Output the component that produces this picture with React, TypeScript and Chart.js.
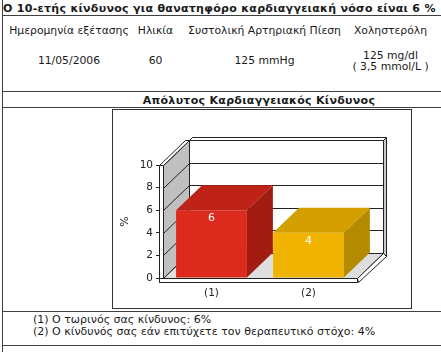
import React, { useEffect, useRef } from "react";
import { Chart, registerables } from "chart.js";

Chart.register(...registerables);

// ---------- data ----------
const categories = ["(1)", "(2)"];
const riskValues = [6, 4];
const valueLabels = ["6", "4"];
const yTickValues = [0, 2, 4, 6, 8, 10];
const frontColors = ["#dc2a1c", "#f0b400"];
const topColors = ["#bf2317", "#d4a000"];
const sideColors = ["#a31c12", "#b48b00"];

const pageTitle = "Ο 10-ετής κίνδυνος για θανατηφόρο καρδιαγγειακή νόσο είναι 6 %";
const headerLabels = ["Ημερομηνία εξέτασης", "Ηλικία", "Συστολική Αρτηριακή Πίεση", "Χοληστερόλη"];
const headerValues = ["11/05/2006", "60", "125 mmHg"];
const cholesterolLines = ["125 mg/dl", "( 3,5 mmol/L )"];
const chartTitle = "Απόλυτος Καρδιαγγειακός Κίνδυνος";
const yAxisTitle = "%";
const legendLines = [
  "(1) Ο τωρινός σας κίνδυνος: 6%",
  "(2) Ο κίνδυνός σας εάν επιτύχετε τον θεραπευτικό στόχο: 4%",
];

const FONT = '"DejaVu Sans", Verdana, sans-serif';
const LINE = "#222";
const DX = 26;
const DY = -25;

function poly(ctx: CanvasRenderingContext2D, pts: number[][], fill: string | null, stroke: string | null) {
  ctx.beginPath();
  ctx.moveTo(pts[0][0], pts[0][1]);
  for (let i = 1; i < pts.length; i++) ctx.lineTo(pts[i][0], pts[i][1]);
  ctx.closePath();
  if (fill) {
    ctx.fillStyle = fill;
    ctx.fill();
  }
  if (stroke) {
    ctx.strokeStyle = stroke;
    ctx.stroke();
  }
}

function seg(ctx: CanvasRenderingContext2D, x1: number, y1: number, x2: number, y2: number) {
  ctx.beginPath();
  ctx.moveTo(x1, y1);
  ctx.lineTo(x2, y2);
  ctx.stroke();
}

const threeDPlugin = {
  id: "threeD",
  beforeDatasetsDraw(chart: any) {
    const { ctx, chartArea: a, scales } = chart;
    const ys = scales.y;
    const p = (v: number) => Math.round(v) + 0.5;
    const L = p(a.left);
    const R = p(a.right);
    const T = p(ys.getPixelForValue(10));
    const B = p(ys.getPixelForValue(0));
    ctx.save();
    ctx.lineWidth = 1;
    ctx.strokeStyle = LINE;
    // back wall
    poly(ctx, [[L + DX, T + DY], [R + DX, T + DY], [R + DX, B + DY], [L + DX, B + DY]], "#ffffff", LINE);
    for (const v of yTickValues) {
      const yy = p(ys.getPixelForValue(v)) + DY;
      seg(ctx, L + DX, yy, R + DX, yy);
    }
    // back wall thickness strip
    poly(ctx, [[R + DX, T + DY - 3], [R + DX + 3, T + DY - 3], [R + DX + 3, B + DY + 3], [R + DX, B + DY]], "#c8c8c8", LINE);
    poly(ctx, [[L + DX, T + DY], [L + DX + 3, T + DY - 3], [R + DX + 3, T + DY - 3], [R + DX, T + DY]], "#ffffff", LINE);
    // side wall
    poly(ctx, [[L, T], [L + DX, T + DY], [L + DX, B + DY], [L, B]], "#c0c0c0", LINE);
    for (const v of yTickValues) {
      const yy = p(ys.getPixelForValue(v));
      seg(ctx, L, yy, L + DX, yy + DY);
    }
    // floor
    poly(ctx, [[L, B], [R, B], [R + DX, B + DY], [L + DX, B + DY]], "#dedede", LINE);
    // floor thickness right face
    poly(ctx, [[R, B], [R + DX, B + DY], [R + DX + 3, B + DY + 3], [R + 1, B + 4]], "#ffffff", LINE);
    // left axis box
    poly(ctx, [[L - 4, T], [L, T], [L + DX, T + DY], [L - 4 + DX, T + DY]], "#ffffff", LINE);
    poly(ctx, [[L - 4, T], [L, T], [L, B + 4], [L - 4, B + 4]], "#ffffff", LINE);
    // bottom axis box
    poly(ctx, [[L - 4, B], [R, B], [R, B + 4], [L - 4, B + 4]], "#ffffff", LINE);
    ctx.restore();
  },
  afterDatasetsDraw(chart: any) {
    const { ctx } = chart;
    const meta = chart.getDatasetMeta(0);
    ctx.save();
    meta.data.forEach((bar: any, i: number) => {
      const { x, y, width, base } = bar.getProps(["x", "y", "width", "base"], true);
      const x1 = x - width / 2;
      const x2 = x + width / 2;
      poly(ctx, [[x1, y], [x2, y], [x2 + DX, y + DY], [x1 + DX, y + DY]], topColors[i], null);
      poly(ctx, [[x2, y], [x2 + DX, y + DY], [x2 + DX, base + DY], [x2, base]], sideColors[i], null);
      ctx.fillStyle = "#ffffff";
      ctx.font = `11px ${FONT}`;
      ctx.textAlign = "center";
      ctx.textBaseline = "middle";
      ctx.fillText(valueLabels[i], x, y + 8);
    });
    ctx.restore();
  },
};

function RiskChart() {
  const ref = useRef<HTMLCanvasElement>(null);
  useEffect(() => {
    if (!ref.current) return;
    const chart = new Chart(ref.current, {
      type: "bar",
      data: {
        labels: categories,
        datasets: [
          {
            data: riskValues,
            backgroundColor: frontColors,
            borderWidth: 0,
            barPercentage: 0.73,
            categoryPercentage: 1,
          },
        ],
      },
      options: {
        animation: false,
        responsive: false,
        devicePixelRatio: 1,
        layout: { padding: { top: 55, right: 54, left: 0, bottom: 0 } },
        plugins: { legend: { display: false }, tooltip: { enabled: false } },
        scales: {
          x: {
            grid: { display: false, drawTicks: false },
            border: { display: false },
            ticks: { color: "#222", font: { family: FONT, size: 10.5 }, padding: 9 },
            afterFit: (s: any) => {
              s.height = 30;
            },
          },
          y: {
            min: 0,
            max: 10,
            ticks: { stepSize: 2, color: "#222", font: { family: FONT, size: 10.5 }, padding: 3 },
            grid: { drawOnChartArea: false, drawTicks: true, tickLength: 7, color: LINE },
            border: { display: false },
            title: { display: true, text: yAxisTitle, color: "#222", font: { family: FONT, size: 11 }, padding: 6 },
            afterFit: (s: any) => {
              s.width = 50;
            },
          },
        },
      },
      plugins: [threeDPlugin],
    } as any);
    return () => chart.destroy();
  }, []);
  return <canvas ref={ref} width={298} height={198} style={{ display: "block", width: 298, height: 198 }} />;
}

function Txt(props: {
  x: number;
  y: number;
  size: number;
  bold?: boolean;
  center?: boolean;
  w?: number;
  ls?: number;
  children: React.ReactNode;
}) {
  const { x, y, size, bold, center, children } = props;
  const w = props.w ?? 300;
  const style: React.CSSProperties = {
    position: "absolute",
    top: y - 0.62 * size,
    fontSize: size,
    lineHeight: `${size * 1.2}px`,
    fontWeight: bold ? "bold" : "normal",
    whiteSpace: "nowrap",
    letterSpacing: props.ls ? `${props.ls}px` : undefined,
  };
  if (center) {
    style.left = x - w / 2;
    style.width = w;
    style.textAlign = "center";
  } else {
    style.left = x;
  }
  return <div style={style}>{children}</div>;
}

function HLine({ y }: { y: number }) {
  return <div style={{ position: "absolute", left: 2, top: y, width: 439, height: 1, background: "#404040" }} />;
}

export default function App() {
  const colCenters = [69, 155.5, 264.5, 390.5];
  return (
    <div
      style={{
        position: "absolute",
        left: 0,
        top: 0,
        width: 441,
        height: 352,
        overflow: "hidden",
        background: "#ffffff",
        fontFamily: FONT,
        color: "#1a1a1a",
      }}
    >
      <div style={{ position: "absolute", left: 2, top: 0, width: 1, height: 352, background: "#404040" }} />
      <HLine y={15} />
      <HLine y={91} />
      <HLine y={107} />
      <HLine y={311} />
      <HLine y={345} />
      <Txt x={3} y={8.5} size={11} bold ls={0.3}>
        {pageTitle}
      </Txt>
      {headerLabels.map((h, i) => (
        <Txt key={h} x={colCenters[i]} y={32} size={10.8} center w={200}>
          {h}
        </Txt>
      ))}
      {headerValues.map((v, i) => (
        <Txt key={v} x={colCenters[i]} y={61.7} size={10.8} center w={200}>
          {v}
        </Txt>
      ))}
      {cholesterolLines.map((v, i) => (
        <Txt key={v} x={colCenters[3]} y={56.7 + i * 11} size={10.8} center w={200}>
          {v}
        </Txt>
      ))}
      <Txt x={259} y={100.7} size={11} bold center w={320} ls={0.3}>
        {chartTitle}
      </Txt>
      <div style={{ position: "absolute", left: 112, top: 109, width: 298, height: 198, border: "1px solid #333" }}>
        <RiskChart />
      </div>
      {legendLines.map((t, i) => (
        <Txt key={t} x={33} y={320 + i * 11.7} size={11}>
          {t}
        </Txt>
      ))}
    </div>
  );
}
